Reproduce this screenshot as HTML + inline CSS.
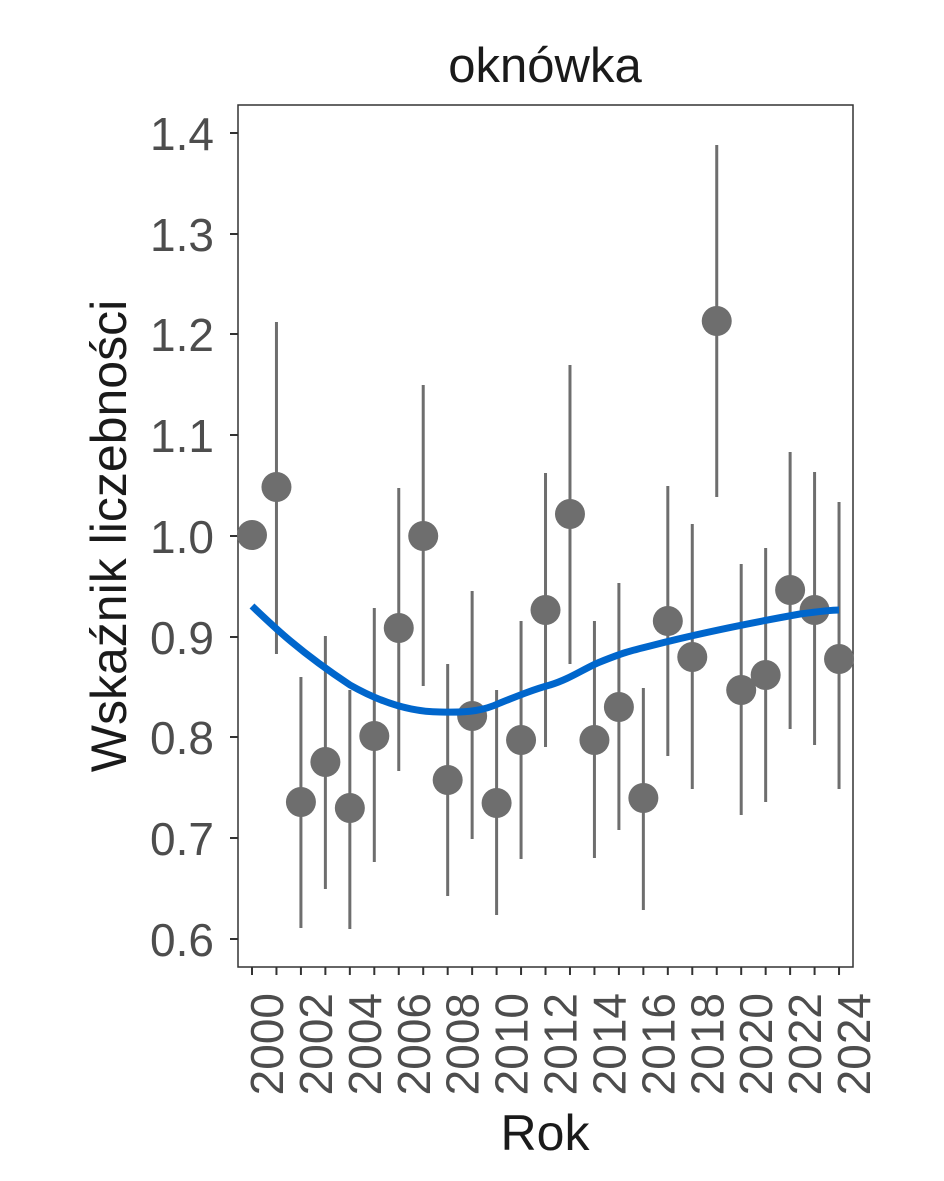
<!DOCTYPE html>
<html><head><meta charset="utf-8"><style>body{margin:0;background:#fff}svg{display:block}</style></head>
<body>
<svg width="944" height="1181" xmlns="http://www.w3.org/2000/svg" font-family="Liberation Sans, sans-serif">
<rect width="944" height="1181" fill="#fff"/>
<text x="545" y="82" font-size="49" text-anchor="middle" fill="#1a1a1a">oknówka</text>
<rect x="238" y="105" width="615" height="862" fill="none" stroke="#333" stroke-width="1.5"/>
<g stroke="#333" stroke-width="2">
<line x1="230" y1="133" x2="238" y2="133"/><line x1="230" y1="234" x2="238" y2="234"/><line x1="230" y1="334" x2="238" y2="334"/><line x1="230" y1="435" x2="238" y2="435"/><line x1="230" y1="536" x2="238" y2="536"/><line x1="230" y1="637" x2="238" y2="637"/><line x1="230" y1="737" x2="238" y2="737"/><line x1="230" y1="838" x2="238" y2="838"/><line x1="230" y1="939" x2="238" y2="939"/>
</g>
<g font-size="46" fill="#4d4d4d" text-anchor="end">
<text x="214" y="150">1.4</text><text x="214" y="251">1.3</text><text x="214" y="351">1.2</text><text x="214" y="452">1.1</text><text x="214" y="553">1.0</text><text x="214" y="654">0.9</text><text x="214" y="754">0.8</text><text x="214" y="855">0.7</text><text x="214" y="956">0.6</text>
</g>
<g stroke="#333" stroke-width="2" id="xt"></g>
<g font-size="46" fill="#4d4d4d" id="xl"></g>
<text x="545" y="1150" font-size="50" text-anchor="middle" fill="#1a1a1a">Rok</text>
<text transform="translate(126,536) rotate(-90)" font-size="50" text-anchor="middle" fill="#1a1a1a">Wskaźnik liczebności</text>
<g stroke="#6e6e6e" stroke-width="3" id="bars"></g>
<g fill="#6e6e6e" id="pts"></g>
<path d="M252,606 C275,628 300,652 350,685 C380,702 410,712 440,712 C470,713 485,710 500,703 C520,695 535,689 550,685 C570,679 585,668 600,662 C625,652 630,651 650,646 C700,633 750,623 800,614 C815,612 830,610 839,610" fill="none" stroke="#0066cc" stroke-width="7"/>
<script>
var d=[[535,535,535],[487,322,654],[802,677,928],[762,636,889],[808,690,929],[736,608,862],[628,488,771],[536,385,686],[780,664,896],[716,591,839],[803,690,915],[740,621,859],[610,473,747],[514,365,664],[740,621,858],[707,583,830],[798,688,910],[621,486,756],[657,524,789],[321,145,497],[690,564,815],[675,548,802],[590,452,729],[610,472,745],[659,502,789]];
var ns="http://www.w3.org/2000/svg",b=document.getElementById('bars'),p=document.getElementById('pts'),xt=document.getElementById('xt'),xl=document.getElementById('xl');
d.forEach(function(v,i){var x=252+i*24.46;
var l=document.createElementNS(ns,'line');l.setAttribute('x1',x);l.setAttribute('x2',x);l.setAttribute('y1',v[1]);l.setAttribute('y2',v[2]);b.appendChild(l);
var c=document.createElementNS(ns,'circle');c.setAttribute('cx',x);c.setAttribute('cy',v[0]);c.setAttribute('r',15);p.appendChild(c);
var t=document.createElementNS(ns,'line');t.setAttribute('x1',x);t.setAttribute('x2',x);t.setAttribute('y1',967);t.setAttribute('y2',975);xt.appendChild(t);
if(i%2==0){var s=document.createElementNS(ns,'text');s.setAttribute('transform','translate('+(x+31)+',993) rotate(-90)');s.setAttribute('text-anchor','end');s.textContent=2000+i;xl.appendChild(s);}
});
</script>
</svg>
</body></html>
